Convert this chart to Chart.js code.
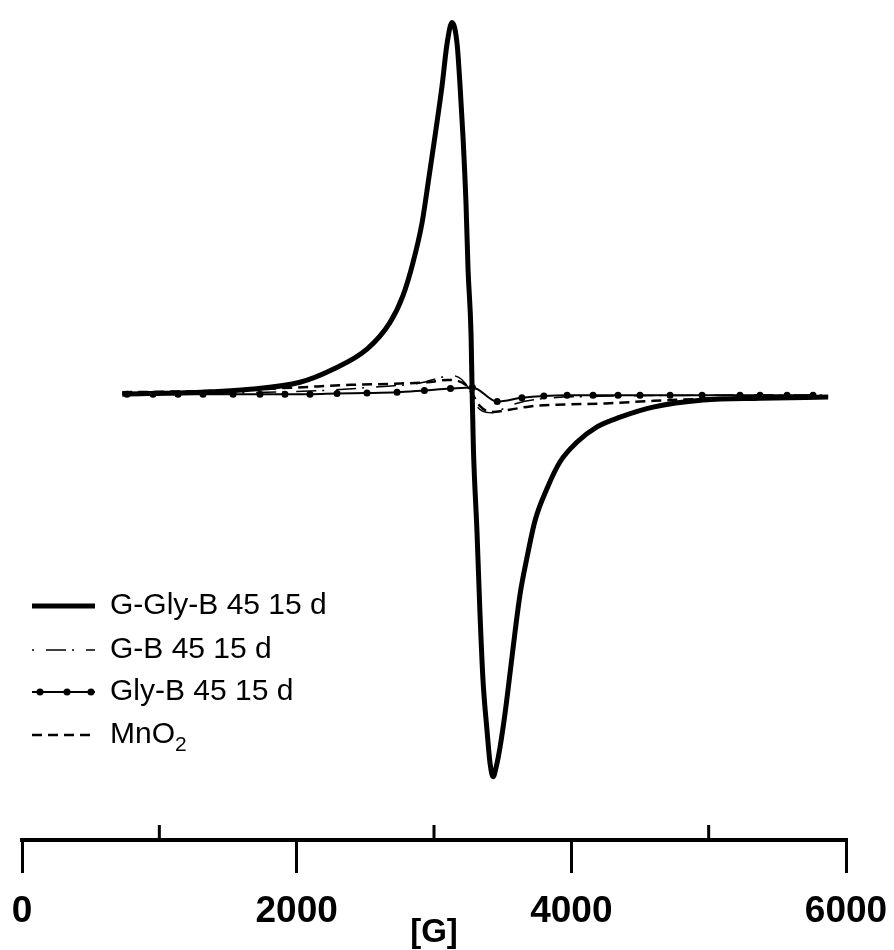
<!DOCTYPE html>
<html>
<head>
<meta charset="utf-8">
<script src="https://cdn.jsdelivr.net/npm/chart.js@4.4.1/dist/chart.umd.min.js"></script>
<style>
  html, body { margin: 0; padding: 0; background: #fff; }
  canvas { display: block; }
</style>
</head>
<body>
<canvas id="epr-chart" width="894" height="950"></canvas>
<script>
// magnetic field [G] and signal (arbitrary units, baseline = 0)
const seriesLabels = ["G-Gly-B 45 15 d", "G-B 45 15 d", "Gly-B 45 15 d", "MnO₂"];
const xTicks = [0, 2000, 4000, 6000];
const minorTicks = [1000, 3000, 5000];

const fieldGGlyB = [730, 1300, 1660, 2024, 2265, 2512, 2680, 2774, 2847, 2913, 2957, 3007, 3058, 3095, 3131, 3168, 3190, 3211, 3233, 3248, 3270, 3278, 3287, 3313, 3335, 3357, 3386, 3408, 3430, 3455, 3481, 3517, 3554, 3590, 3626, 3677, 3736, 3823, 3918, 4042, 4187, 4355, 4595, 4960, 5375, 5870];
const signalGGlyB = [0, 0.5, 1.3, 3.2, 6.7, 12.1, 19.3, 26.5, 35.4, 46.1, 56.8, 69.4, 82.8, 94.3, 100, 94.3, 82.8, 69.4, 51.4, 33.5, 15.8, 0, -14.7, -37, -59.2, -77.1, -90.5, -99.3, -103, -100, -95, -86, -75, -64, -54, -44, -34, -25.4, -18.2, -12.9, -8.8, -6.2, -3.5, -1.6, -1.1, -0.8];

const fieldGB = [730, 1500, 2200, 2600, 2900, 3050, 3130, 3200, 3260, 3290, 3350, 3420, 3500, 3600, 3800, 4200, 5000, 5870];
const signalGB = [0, 0.3, 1, 2, 3, 4.5, 5, 4, 1, -2, -4.5, -5, -4, -2.5, -1.2, -0.6, -0.3, -0.2];

const fieldGlyB = [765, 954, 1136, 1318, 1537, 1733, 1915, 2097, 2294, 2512, 2731, 2930, 3120, 3280, 3460, 3640, 3800, 3969, 4158, 4340, 4500, 4719, 4952, 5228, 5374, 5571, 5760];
const signalGlyB = [0, 0, 0, 0, 0, 0, 0, 0, 0.2, 0.3, 0.5, 1, 1.5, 1.8, -2, -1, -0.5, -0.3, -0.3, -0.3, -0.3, -0.3, -0.3, -0.3, -0.3, -0.3, -0.3];

const fieldMnO2 = [730, 1500, 2000, 2400, 2700, 2950, 3100, 3230, 3280, 3330, 3420, 3550, 3700, 3950, 4250, 4600, 5000, 5400, 5870];
const signalMnO2 = [0.5, 1, 1.8, 2.5, 2.8, 3.2, 3.8, 2.5, 0, -3, -4.8, -4.2, -3.3, -2.8, -2.5, -1.8, -1.2, -0.8, -0.6];

const fontFamily = "'Liberation Sans', Arial, Helvetica, sans-serif";

const toPoints = (xs, ys) => xs.map((x, i) => ({ x: x, y: ys[i] }));

// minor ticks point upward from the axis line
const minorTickPlugin = {
  id: "minorTicks",
  afterDraw(chart) {
    const ctx = chart.ctx;
    const xScale = chart.scales.x;
    const bottom = chart.chartArea.bottom;
    ctx.save();
    ctx.strokeStyle = "#000";
    ctx.lineWidth = 3;
    minorTicks.forEach((v) => {
      const px = xScale.getPixelForValue(v);
      ctx.beginPath();
      ctx.moveTo(px, bottom);
      ctx.lineTo(px, bottom - 15);
      ctx.stroke();
    });
    ctx.restore();
  },
};

// legend drawn inside the plot, lower left
const insideLegendPlugin = {
  id: "insideLegend",
  afterDraw(chart) {
    const ctx = chart.ctx;
    const rowsY = [606, 650, 692, 735];
    const x0 = 32, x1 = 95, textX = 110;
    ctx.save();
    chart.data.datasets.forEach((ds, i) => {
      const y = rowsY[i];
      ctx.strokeStyle = ds.borderColor;
      ctx.lineWidth = ds.borderWidth;
      ctx.setLineDash(ds.borderDash || []);
      ctx.beginPath();
      ctx.moveTo(x0, y);
      ctx.lineTo(x1, y);
      ctx.stroke();
      ctx.setLineDash([]);
      if (ds.pointRadius > 0) {
        ctx.fillStyle = ds.borderColor;
        [40, 67, 91].forEach((px) => {
          ctx.beginPath();
          ctx.arc(px, y, ds.pointRadius, 0, Math.PI * 2);
          ctx.fill();
        });
      }
      // text, with subscript digits drawn smaller and lower
      ctx.fillStyle = "#000";
      ctx.textBaseline = "middle";
      let cx = textX;
      const parts = ds.label.split(/([₀-₉]+)/);
      parts.forEach((part) => {
        if (!part) return;
        if (/[₀-₉]/.test(part)) {
          const digits = part.replace(/[₀-₉]/g, (c) => String(c.charCodeAt(0) - 0x2080));
          ctx.font = "21px " + fontFamily;
          ctx.fillText(digits, cx, y + 10);
          cx += ctx.measureText(digits).width;
        } else {
          ctx.font = "30px " + fontFamily;
          ctx.fillText(part, cx, y);
          cx += ctx.measureText(part).width;
        }
      });
    });
    ctx.restore();
  },
};

const ctx = document.querySelector("#epr-chart").getContext("2d");

const eprChart = new Chart(ctx, {
  type: "line",
  data: {
    datasets: [
      {
        label: seriesLabels[0],
        data: toPoints(fieldGGlyB, signalGGlyB),
        borderColor: "#000",
        borderWidth: 5,
        pointRadius: 0,
        cubicInterpolationMode: "monotone",
      },
      {
        label: seriesLabels[1],
        data: toPoints(fieldGB, signalGB),
        borderColor: "#000",
        borderWidth: 1.5,
        borderDash: [2, 12, 20, 6],
        pointRadius: 0,
        cubicInterpolationMode: "monotone",
      },
      {
        label: seriesLabels[2],
        data: toPoints(fieldGlyB, signalGlyB),
        borderColor: "#000",
        backgroundColor: "#000",
        borderWidth: 2,
        pointRadius: 3.5,
        pointBackgroundColor: "#000",
        pointBorderWidth: 0,
        cubicInterpolationMode: "monotone",
      },
      {
        label: seriesLabels[3],
        data: toPoints(fieldMnO2, signalMnO2),
        borderColor: "#000",
        borderWidth: 2.5,
        borderDash: [10, 6],
        pointRadius: 0,
        cubicInterpolationMode: "monotone",
      },
    ],
  },
  options: {
    responsive: false,
    animation: false,
    layout: { padding: { left: 22, right: 48, top: 0, bottom: 0 } },
    plugins: {
      legend: { display: false },
      tooltip: { enabled: false },
    },
    scales: {
      x: {
        type: "linear",
        min: 0,
        max: 6000,
        afterBuildTicks: (scale) => {
          scale.ticks = xTicks.map((v) => ({ value: v }));
        },
        afterFit: (scale) => {
          // labels fit inside the layout padding already
          scale.paddingLeft = 0;
          scale.paddingRight = 0;
        },
        ticks: {
          color: "#000",
          padding: 17,
          maxRotation: 0,
          callback: (v) => String(v),
          font: { family: fontFamily, size: 37, weight: "bold" },
        },
        grid: {
          drawOnChartArea: false,
          tickLength: 33,
          lineWidth: 3,
          color: "#000",
        },
        border: { width: 4, color: "#000" },
        title: {
          display: true,
          text: "[G]",
          color: "#000",
          padding: { top: -38, bottom: -3 },
          font: { family: fontFamily, size: 33, weight: "bold" },
        },
      },
      y: {
        display: false,
        min: -120,
        max: 105,
      },
    },
  },
  plugins: [minorTickPlugin, insideLegendPlugin],
});
</script>
</body>
</html>
